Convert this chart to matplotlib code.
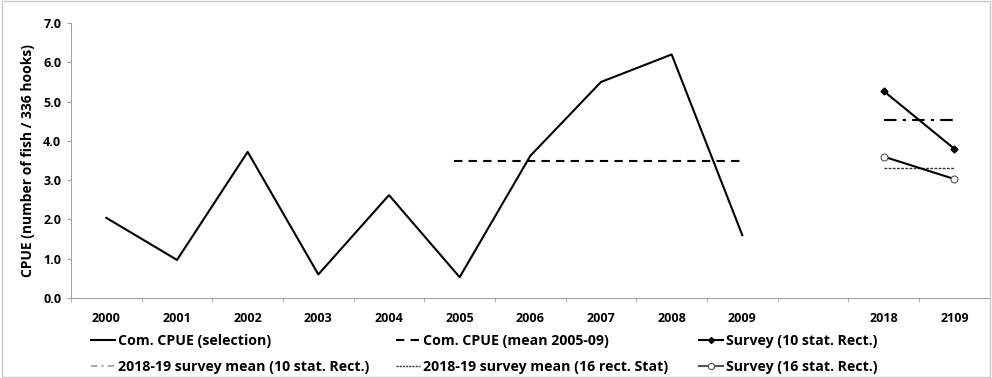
import numpy as np
import matplotlib.pyplot as plt
from matplotlib.patches import Rectangle
from matplotlib.lines import Line2D

FONT = 'Open Sans'

labels = ['2000', '2001', '2002', '2003', '2004', '2005', '2006', '2007',
          '2008', '2009', '', '2018', '2109']
com_cpue = [2.04, 0.97, 3.72, 0.60, 2.62, 0.53, 3.62, 5.50, 6.20, 1.60]
com_mean = 3.50                      # mean 2005-09
survey10 = [5.27, 3.80]              # 2018, 2109
survey16 = [3.60, 3.03]
mean10 = 4.54
mean16 = 3.32

x = np.arange(len(labels))
x_com = x[:10]
x_srv = x[11:13]

fig = plt.figure(figsize=(9.92, 3.78), dpi=100)
ax = fig.add_axes([0.0716, 0.2116, 0.926, 0.7274])

ax.plot(x_com, com_cpue, color='black', lw=1.5)
ax.plot([x_com[5] - 0.08, x_com[9]], [com_mean, com_mean], color='black',
        lw=1.5, linestyle=(0, (4, 3)))
ax.plot(x_srv, survey10, color='black', lw=1.5, marker='D', ms=3.5)
ax.plot(x_srv, [mean10, mean10], color='black', lw=1.5,
        linestyle=(0, (6, 3, 1.5, 3)))
ax.plot(x_srv, [mean16, mean16], color='#333333', lw=1.0,
        linestyle=(0, (2, 1)))
ax.plot(x_srv, survey16, color='black', lw=1.5, marker='o', ms=5,
        mfc='white', mec='#555555', mew=0.8)

ax.set_xlim(-0.5, len(labels) - 0.5)
ax.set_ylim(0, 7)
yt = np.arange(0, 7.1, 1.0)
ax.set_yticks(yt)
ax.set_yticklabels([f'{v:.1f}' for v in yt], family=FONT, fontsize=9,
                   fontweight='bold')
ax.set_xticks(x)
ax.set_xticklabels(labels, family=FONT, fontsize=9, fontweight='bold')
ax.tick_params(axis='x', which='major', length=0, pad=10)
ax.set_xticks(np.arange(-0.5, len(labels), 1.0), minor=True)
ax.tick_params(axis='x', which='minor', length=3, color='#a0a0a0')
ax.tick_params(axis='y', length=3, color='#a0a0a0', pad=4)
ax.set_ylabel('CPUE (number of fish / 336 hooks)', family=FONT, fontsize=10,
              fontweight='bold', labelpad=6)

for s in ['top', 'right']:
    ax.spines[s].set_visible(False)
for s in ['left', 'bottom']:
    ax.spines[s].set_color('#a0a0a0')

h_sel = Line2D([], [], color='black', lw=1.5)
h_m10 = Line2D([], [], color='#aaaaaa', lw=1.5, linestyle=(0, (3, 2, 1, 2)))
h_cm = Line2D([], [], color='black', lw=1.5, linestyle=(0, (4, 3)))
h_m16 = Line2D([], [], color='#333333', lw=1.0, linestyle=(0, (1.5, 0.8)))
h_s10 = Line2D([], [], color='black', lw=1.5, marker='D', ms=3)
h_s16 = Line2D([], [], color='#555555', lw=1.5, marker='o', ms=4.5,
               mfc='white', mew=0.8)

columns = [
    ([h_sel, h_m10], ['Com. CPUE (selection)',
                      '2018-19 survey mean (10 stat. Rect.)'], 0.0877),
    ([h_cm, h_m16], ['Com. CPUE (mean 2005-09)',
                     '2018-19 survey mean (16 rect. Stat)'], 0.3945),
    ([h_s10, h_s16], ['Survey (10 stat. Rect.)',
                      'Survey (16 stat. Rect.)'], 0.7005),
]
for hs, names, x0 in columns:
    fig.legend(hs, names, loc='lower left', bbox_to_anchor=(x0, 0.0),
               borderaxespad=0.0, borderpad=0.3, frameon=False,
               prop={'family': FONT, 'size': 10.2, 'weight': 'bold'},
               handlelength=1.7, handletextpad=0.2, labelspacing=0.85)

fig.patches.append(Rectangle((0.002, 0.003), 0.996, 0.994,
                             transform=fig.transFigure, fill=False,
                             edgecolor='#c8c8c8', lw=1))

fig.savefig('out.png', dpi=100)
